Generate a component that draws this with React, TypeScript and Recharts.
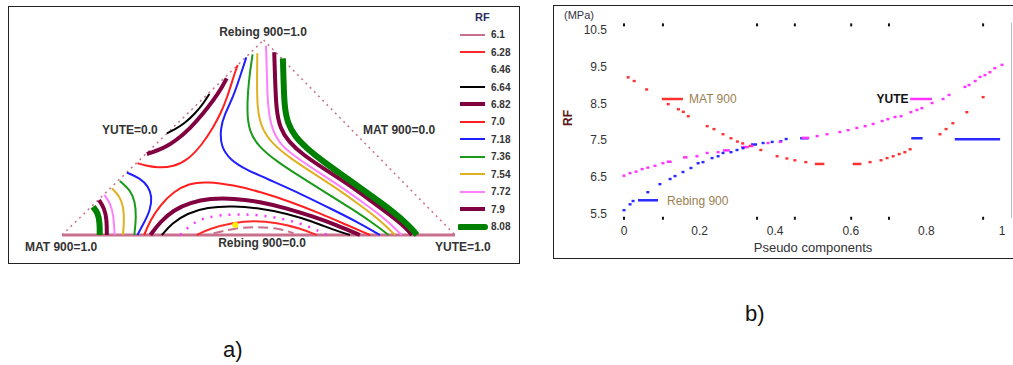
import { ComposedChart, Line, Scatter, XAxis, YAxis, Legend, ReferenceDot, ReferenceLine } from "recharts"

const FONT = "Arial, 'Liberation Sans', Helvetica, sans-serif"

type Pt = [number, number]

// ---------- a) ternary contour plot (x, y in the triangle frame) ----------
const RF_LABELS = ["6.1", "6.28", "6.46", "6.64", "6.82", "7.0", "7.18", "7.36", "7.54", "7.72", "7.9", "8.08"]

const TRI_LEFT_EDGE: Pt[] = [[0, 0], [0.513, 1]]
const TRI_RIGHT_EDGE: Pt[] = [[0.513, 1], [1, 0]]
const TRI_BASE: Pt[] = [[0, 0], [1, 0]]

const C_610: Pt[] = [[0.386, 0.009], [0.436, 0.034], [0.496, 0.043], [0.555, 0.033], [0.589, 0.009]]
const C_628: Pt[] = [[0.343, 0], [0.377, 0.034], [0.436, 0.063], [0.487, 0.074], [0.547, 0.063], [0.606, 0.034], [0.648, 0]]
const C_646: Pt[] = [[0.301, 0], [0.331, 0.06], [0.369, 0.094], [0.436, 0.108], [0.504, 0.103], [0.572, 0.08], [0.631, 0.043], [0.674, 0]]
const C_664_TOP: Pt[] = [[0.375, 0.723], [0.36, 0.675], [0.339, 0.624], [0.314, 0.576], [0.288, 0.542], [0.267, 0.521]]
const C_664_BOTTOM: Pt[] = [[0.254, 0], [0.28, 0.06], [0.318, 0.111], [0.369, 0.142], [0.436, 0.149], [0.504, 0.137], [0.572, 0.111], [0.64, 0.068], [0.691, 0.026], [0.733, 0]]
const C_682_TOP: Pt[] = [[0.419, 0.803], [0.407, 0.757], [0.386, 0.692], [0.356, 0.615], [0.326, 0.547], [0.292, 0.487], [0.258, 0.444], [0.233, 0.427], [0.216, 0.415]]
const C_682_BOTTOM: Pt[] = [[0.225, 0], [0.25, 0.068], [0.284, 0.128], [0.326, 0.166], [0.377, 0.188], [0.436, 0.188], [0.504, 0.171], [0.572, 0.137], [0.64, 0.094], [0.699, 0.051], [0.758, 0]]
const C_700_TOP: Pt[] = [[0.447, 0.872], [0.436, 0.809], [0.421, 0.709], [0.404, 0.624], [0.386, 0.556], [0.356, 0.462], [0.322, 0.388], [0.284, 0.35], [0.242, 0.345], [0.212, 0.356], [0.192, 0.368]]
const C_700_BOTTOM: Pt[] = [[0.209, 0], [0.225, 0.077], [0.25, 0.154], [0.284, 0.222], [0.322, 0.265], [0.369, 0.274], [0.436, 0.256], [0.504, 0.222], [0.581, 0.171], [0.657, 0.111], [0.725, 0.051], [0.784, 0]]
const C_718_LEFT: Pt[] = [[0.165, 0.32], [0.199, 0.291], [0.22, 0.248], [0.229, 0.197], [0.225, 0.128], [0.208, 0.06], [0.192, 0]]
const C_718_RIGHT: Pt[] = [[0.469, 0.911], [0.453, 0.812], [0.436, 0.709], [0.413, 0.615], [0.403, 0.547], [0.404, 0.453], [0.428, 0.385], [0.47, 0.333], [0.538, 0.274], [0.614, 0.205], [0.691, 0.128], [0.758, 0.06], [0.809, 0]]
const C_736_LEFT: Pt[] = [[0.147, 0.277], [0.174, 0.231], [0.186, 0.171], [0.189, 0.094], [0.184, 0]]
const C_736_RIGHT: Pt[] = [[0.485, 0.926], [0.475, 0.795], [0.47, 0.624], [0.477, 0.53], [0.5, 0.453], [0.547, 0.376], [0.606, 0.299], [0.674, 0.214], [0.742, 0.128], [0.792, 0.06], [0.831, 0]]
const C_754_LEFT: Pt[] = [[0.127, 0.239], [0.148, 0.197], [0.157, 0.137], [0.158, 0.068], [0.155, 0]]
const C_754_RIGHT: Pt[] = [[0.497, 0.932], [0.496, 0.778], [0.497, 0.641], [0.508, 0.547], [0.534, 0.47], [0.581, 0.393], [0.64, 0.316], [0.699, 0.239], [0.758, 0.154], [0.809, 0.077], [0.847, 0]]
const C_772_LEFT: Pt[] = [[0.108, 0.205], [0.123, 0.162], [0.131, 0.103], [0.134, 0]]
const C_772_RIGHT: Pt[] = [[0.519, 0.971], [0.521, 0.863], [0.523, 0.658], [0.534, 0.538], [0.559, 0.453], [0.606, 0.385], [0.657, 0.316], [0.716, 0.239], [0.775, 0.154], [0.826, 0.077], [0.864, 0]]
const C_790_LEFT: Pt[] = [[0.094, 0.179], [0.108, 0.137], [0.114, 0.077], [0.114, 0]]
const C_790_RIGHT: Pt[] = [[0.54, 0.937], [0.542, 0.812], [0.545, 0.641], [0.555, 0.547], [0.576, 0.479], [0.614, 0.41], [0.665, 0.342], [0.725, 0.265], [0.784, 0.179], [0.835, 0.103], [0.877, 0.034], [0.89, 0]]
const C_808_LEFT: Pt[] = [[0.079, 0.145], [0.092, 0.111], [0.096, 0.06], [0.096, 0]]
const C_808_RIGHT: Pt[] = [[0.562, 0.906], [0.564, 0.778], [0.566, 0.658], [0.574, 0.573], [0.593, 0.504], [0.623, 0.444], [0.665, 0.376], [0.725, 0.291], [0.784, 0.205], [0.843, 0.12], [0.886, 0.043], [0.903, 0]]
const MIN_SPOT: Pt = [0.441, 0.051]

const CONTOURS: { level: string; points: Pt[] }[] = [
  { level: "6.1", points: C_610 },
  { level: "6.28", points: C_628 },
  { level: "6.46", points: C_646 },
  { level: "6.64", points: C_664_TOP },
  { level: "6.64", points: C_664_BOTTOM },
  { level: "6.82", points: C_682_TOP },
  { level: "6.82", points: C_682_BOTTOM },
  { level: "7.0", points: C_700_TOP },
  { level: "7.0", points: C_700_BOTTOM },
  { level: "7.18", points: C_718_LEFT },
  { level: "7.18", points: C_718_RIGHT },
  { level: "7.36", points: C_736_LEFT },
  { level: "7.36", points: C_736_RIGHT },
  { level: "7.54", points: C_754_LEFT },
  { level: "7.54", points: C_754_RIGHT },
  { level: "7.72", points: C_772_LEFT },
  { level: "7.72", points: C_772_RIGHT },
  { level: "7.9", points: C_790_LEFT },
  { level: "7.9", points: C_790_RIGHT },
  { level: "8.08", points: C_808_LEFT },
  { level: "8.08", points: C_808_RIGHT },
]

const LEVEL_STYLE: Record<string, { stroke: string; width: number; dash?: string; swatch?: boolean }> = {
  "6.1": { stroke: "#c8708c", width: 2, dash: "10 5" },
  "6.28": { stroke: "#ff2a2a", width: 2 },
  "6.46": { stroke: "#ff33ff", width: 2.5, dash: "2 7", swatch: false },
  "6.64": { stroke: "#000000", width: 2 },
  "6.82": { stroke: "#800040", width: 4 },
  "7.0": { stroke: "#ff1f1f", width: 2 },
  "7.18": { stroke: "#1f1fff", width: 2 },
  "7.36": { stroke: "#1a9a1a", width: 2 },
  "7.54": { stroke: "#e0b020", width: 2 },
  "7.72": { stroke: "#ff80ff", width: 2 },
  "7.9": { stroke: "#800040", width: 4 },
  "8.08": { stroke: "#008000", width: 6 },
}

// ---------- b) RF vs pseudo components ----------
const X_TICKS = [0, 0.2, 0.4, 0.6, 0.8, 1]
const Y_TICKS = [5.5, 6.5, 7.5, 8.5, 9.5, 10.5]

const MAT900_RF: Pt[] = [
  [0.011, 9.21], [0.027, 9.11], [0.06, 8.88], [0.117, 8.48], [0.144, 8.34], [0.157, 8.27], [0.17, 8.15],
  [0.22, 7.88], [0.238, 7.8], [0.262, 7.66], [0.283, 7.55], [0.3, 7.46], [0.314, 7.41], [0.334, 7.34],
  [0.362, 7.23], [0.405, 7.06], [0.431, 7.0], [0.452, 6.95], [0.481, 6.9], [0.651, 6.9], [0.68, 6.95],
  [0.696, 7.01], [0.712, 7.06], [0.728, 7.12], [0.743, 7.17], [0.757, 7.25], [0.836, 7.66], [0.852, 7.8],
  [0.87, 7.96], [0.907, 8.26], [0.95, 8.67],
]
const MAT900_DASHES: [number, number, number][] = [[0.505, 0.53, 6.85], [0.605, 0.628, 6.85]]

const REBING_RF: Pt[] = [
  [0.0, 5.59], [0.016, 5.75], [0.024, 5.84], [0.063, 6.08], [0.095, 6.3], [0.122, 6.44], [0.135, 6.52],
  [0.156, 6.63], [0.177, 6.74], [0.196, 6.87], [0.209, 6.9], [0.233, 7.01], [0.249, 7.06], [0.262, 7.15],
  [0.283, 7.17], [0.299, 7.23], [0.315, 7.28], [0.368, 7.42], [0.392, 7.45], [0.415, 7.47], [0.429, 7.53],
]
const REBING_DASHES: [number, number, number][] = [[0.336, 0.352, 7.38], [0.466, 0.488, 7.55], [0.76, 0.79, 7.55], [0.875, 0.995, 7.52]]

const YUTE_RF: Pt[] = [
  [0.0, 6.53], [0.016, 6.6], [0.032, 6.64], [0.048, 6.71], [0.063, 6.75], [0.082, 6.8], [0.103, 6.87],
  [0.193, 7.06], [0.22, 7.15], [0.249, 7.17], [0.339, 7.34], [0.381, 7.42], [0.413, 7.45], [0.511, 7.61],
  [0.537, 7.66], [0.571, 7.72], [0.593, 7.77], [0.616, 7.83], [0.638, 7.88], [0.659, 7.94], [0.683, 8.02],
  [0.698, 8.07], [0.717, 8.13], [0.733, 8.15], [0.759, 8.26], [0.775, 8.32], [0.788, 8.37], [0.815, 8.51],
  [0.844, 8.62], [0.86, 8.73], [0.902, 8.95], [0.913, 9.0], [0.929, 9.11], [0.942, 9.22], [0.955, 9.27],
  [0.968, 9.35], [0.981, 9.46], [1.0, 9.55],
]
const YUTE_DASHES: [number, number, number][] = [[0.113, 0.126, 6.91], [0.156, 0.168, 7.03], [0.262, 0.28, 7.22], [0.31, 0.33, 7.31], [0.47, 0.49, 7.56]]

const MARK_X = [0, 0.103, 0.352, 0.452, 0.601, 0.701, 0.95]
const MARK_TOP_Y = 10.64
const MARK_BOTTOM_Y = 5.37

const toXY = (pts: Pt[]) => pts.map(([x, y]) => ({ x, y }))

const dotShape = (fill: string) => (props: any) => (
  <rect x={props.cx - 1.5} y={props.cy - 1.2} width={3} height={2.4} fill={fill} />
)
const markShape = (props: any) => <rect x={props.cx - 1} y={props.cy - 1.5} width={2} height={3} fill="#111" />

function RfLegend() {
  return (
    <div style={{ fontFamily: FONT, fontSize: 10, color: "#333", width: 62 }}>
      <div style={{ height: 18, lineHeight: "18px", paddingLeft: 17, fontWeight: "bold", fontSize: 11, color: "#2a2a60" }}>RF</div>
      {RF_LABELS.map((lab) => {
        const s = LEVEL_STYLE[lab]
        return (
          <div key={lab} style={{ height: 17.45, display: "flex", alignItems: "center" }}>
            <svg width={33} height={10} style={{ flex: "none" }}>
              {s.swatch !== false && (
                <line x1={2} y1={5} x2={27} y2={5} stroke={s.stroke} strokeWidth={s.width} strokeLinecap={s.width > 4 ? "round" : "butt"} />
              )}
            </svg>
            <span style={{ fontWeight: "bold" }}>{lab}</span>
          </div>
        )
      })}
    </div>
  )
}

const labelStyle = { fontFamily: FONT, fontSize: 12, fontWeight: "bold" as const, fill: "#333" }

function TernaryChart() {
  return (
    <ComposedChart width={520} height={270} margin={{ top: 40, right: 65, bottom: 35, left: 62 }}>
      <XAxis type="number" dataKey="x" domain={[0, 1]} hide />
      <YAxis type="number" dataKey="y" domain={[0, 1]} hide />
      <Line data={toXY(TRI_LEFT_EDGE)} dataKey="y" stroke="#c8708c" strokeWidth={1.5} strokeDasharray="2 4" dot={false} legendType="none" isAnimationActive={false} />
      <Line data={toXY(TRI_RIGHT_EDGE)} dataKey="y" stroke="#c8708c" strokeWidth={1.5} strokeDasharray="2 4" dot={false} legendType="none" isAnimationActive={false} />
      <Line data={toXY(TRI_BASE)} dataKey="y" stroke="#c8708c" strokeWidth={3} dot={false} legendType="none" isAnimationActive={false} />
      {CONTOURS.map((c, i) => {
        const s = LEVEL_STYLE[c.level]
        return (
          <Line
            key={i}
            data={toXY(c.points)}
            dataKey="y"
            name={c.level}
            type="basis"
            stroke={s.stroke}
            strokeWidth={s.width}
            strokeDasharray={s.dash}
            dot={false}
            legendType="none"
            isAnimationActive={false}
          />
        )
      })}
      <ReferenceDot x={MIN_SPOT[0]} y={MIN_SPOT[1]} r={3} fill="#ffee00" stroke="none" />
      <Legend content={() => <RfLegend />} layout="vertical" align="center" verticalAlign="middle" wrapperStyle={{ left: 458, top: 8, width: 62 }} />
      <text x={263} y={36} textAnchor="middle" style={labelStyle}>Rebing 900=1.0</text>
      <text x={102} y={134} style={labelStyle}>YUTE=0.0</text>
      <text x={363} y={134} style={labelStyle}>MAT 900=0.0</text>
      <text x={25} y={251} style={labelStyle}>MAT 900=1.0</text>
      <text x={262} y={247} textAnchor="middle" style={labelStyle}>Rebing 900=0.0</text>
      <text x={435} y={251} style={labelStyle}>YUTE=1.0</text>
    </ComposedChart>
  )
}

const tickStyle = { fontFamily: FONT, fontSize: 12, fill: "#333" }

function dashLines(dashes: [number, number, number][], color: string) {
  return dashes.map(([x1, x2, y], i) => (
    <Line
      key={color + i}
      data={[{ x: x1, y }, { x: x2, y }]}
      dataKey="y"
      stroke={color}
      strokeWidth={2.5}
      dot={false}
      legendType="none"
      isAnimationActive={false}
    />
  ))
}

function RfLineChart() {
  return (
    <ComposedChart width={460} height={253} margin={{ top: 19.5, right: 11, bottom: 9, left: 26 }}>
      <XAxis
        type="number"
        dataKey="x"
        domain={[0, 1]}
        ticks={X_TICKS}
        interval={0}
        axisLine={false}
        tickLine={false}
        tickMargin={1}
        height={30}
        tick={tickStyle}
      />
      <YAxis
        type="number"
        dataKey="y"
        domain={[5.35, 10.65]}
        ticks={Y_TICKS}
        interval={0}
        axisLine={false}
        tickLine={false}
        tickMargin={11}
        width={45}
        tickFormatter={(v: number) => v.toFixed(1)}
        tick={tickStyle}
      />
      <Scatter data={MARK_X.map((x) => ({ x, y: MARK_TOP_Y }))} shape={markShape} isAnimationActive={false} />
      <Scatter data={MARK_X.map((x) => ({ x, y: MARK_BOTTOM_Y }))} shape={markShape} isAnimationActive={false} />
      <Scatter name="MAT 900" data={toXY(MAT900_RF)} shape={dotShape("#ff3030")} isAnimationActive={false} />
      {dashLines(MAT900_DASHES, "#ff3030")}
      <Scatter name="Rebing 900" data={toXY(REBING_RF)} shape={dotShape("#2a2aff")} isAnimationActive={false} />
      {dashLines(REBING_DASHES, "#2a2aff")}
      <Scatter name="YUTE" data={toXY(YUTE_RF)} shape={dotShape("#ff33ff")} isAnimationActive={false} />
      {dashLines(YUTE_DASHES, "#ff33ff")}

      <ReferenceLine segment={[{ x: 0.1, y: 8.62 }, { x: 0.156, y: 8.62 }]} stroke="#ff3030" strokeWidth={2.5} />
      <ReferenceDot x={0.172} y={8.62} r={0} label={{ value: "MAT 900", position: "right", offset: 0, style: { fontFamily: FONT, fontSize: 12, fill: "#9a8050" } }} />
      <ReferenceLine segment={[{ x: 0.757, y: 8.62 }, { x: 0.815, y: 8.62 }]} stroke="#ff33ff" strokeWidth={2.5} />
      <ReferenceDot x={0.753} y={8.62} r={0} label={{ value: "YUTE", position: "left", offset: 0, style: { fontFamily: FONT, fontSize: 12, fontWeight: "bold", fill: "#111" } }} />
      <ReferenceLine segment={[{ x: 0.037, y: 5.86 }, { x: 0.09, y: 5.86 }]} stroke="#2a2aff" strokeWidth={2.5} />
      <ReferenceDot x={0.114} y={5.86} r={0} label={{ value: "Rebing 900", position: "right", offset: 0, style: { fontFamily: FONT, fontSize: 12, fill: "#9a8050" } }} />

      <text x={26} y={14} textAnchor="middle" style={{ fontFamily: FONT, fontSize: 11, fill: "#334" }}>(MPa)</text>
      <text x={23} y={117} textAnchor="middle" transform="rotate(-90 19 117)" style={{ fontFamily: FONT, fontSize: 12, fontWeight: "bold", fill: "#5a1a1a" }}>RF</text>
      <text x={260} y={247} textAnchor="middle" style={{ fontFamily: FONT, fontSize: 13, fill: "#333" }}>Pseudo components</text>
    </ComposedChart>
  )
}

export default function App() {
  return (
    <div style={{ position: "absolute", left: 0, top: 0, width: 1013, height: 365, overflow: "hidden", background: "#fff", fontFamily: FONT }}>
      <div style={{ position: "absolute", left: 8, top: 6, width: 512, height: 258, border: "1.5px solid #222", boxSizing: "border-box" }} />
      <div style={{ position: "absolute", left: 553, top: 5, width: 470, height: 254, border: "1.5px solid #222", boxSizing: "border-box" }} />
      <div style={{ position: "absolute", left: 1011, top: 23, width: 1, height: 195, background: "#bbb" }} />
      <div style={{ position: "absolute", left: 0, top: 0 }}>
        <TernaryChart />
      </div>
      <div style={{ position: "absolute", left: 553, top: 5 }}>
        <RfLineChart />
      </div>
      <div style={{ position: "absolute", left: 223, top: 337, fontSize: 22, color: "#111" }}>a)</div>
      <div style={{ position: "absolute", left: 745, top: 301, fontSize: 22, color: "#111" }}>b)</div>
    </div>
  )
}
